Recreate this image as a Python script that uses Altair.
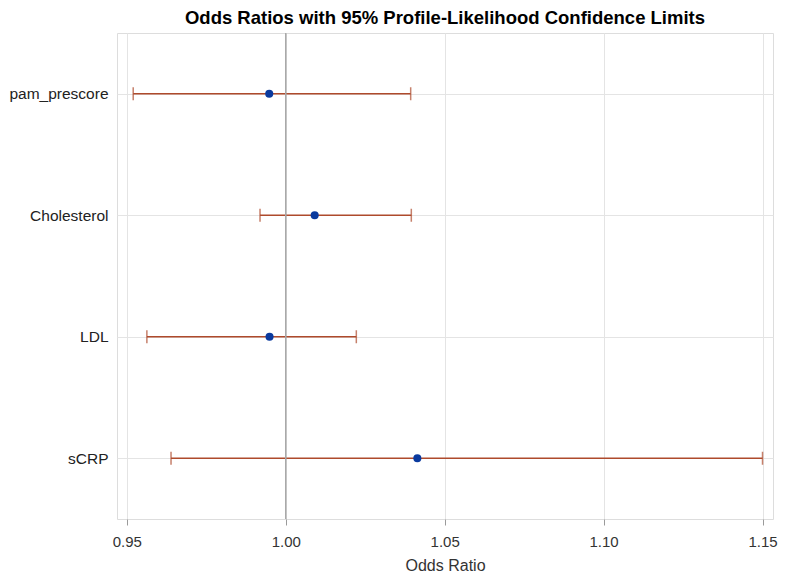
import altair as alt
import pandas as pd

effects = ["pam_prescore", "Cholesterol", "LDL", "sCRP"]
odds_ratio = [0.9948, 1.0091, 0.9949, 1.0414]
lower_cl = [0.9520, 0.9919, 0.9563, 0.9639]
upper_cl = [1.0393, 1.0395, 1.0222, 1.1500]
ref_value = [1.0]
x_ticks = [0.95, 1.00, 1.05, 1.10, 1.15]

df = pd.DataFrame({"Effect": effects, "OR": odds_ratio, "Lower": lower_cl, "Upper": upper_cl})
ref_df = pd.DataFrame({"ref": ref_value})

FONT = "Liberation Sans"
xscale = alt.Scale(domain=[0.9469, 1.1533], nice=False, zero=False)
yscale = alt.Scale(type="point", domain=effects, padding=0.5)

xenc = alt.X("Lower:Q", scale=xscale,
             axis=alt.Axis(values=x_ticks, format=".2f", title="Odds Ratio",
                           grid=True, gridColor="#E4E4E4", domain=False,
                           tickColor="#9A9A9A", tickSize=6, labelFontSize=15,
                           labelColor="#333333", labelPadding=9,
                           titleFontSize=16, titleFontWeight="normal",
                           titleColor="#333333", titlePadding=8, labelFont=FONT, titleFont=FONT))
yenc = alt.Y("Effect:N", scale=yscale, sort=effects,
             axis=alt.Axis(title=None, grid=True, gridColor="#E4E4E4", domain=False,
                           ticks=False, labelFontSize=15.5, labelColor="#222222",
                           labelPadding=9, labelFont=FONT))

ref = alt.Chart(ref_df).mark_rule(color="#A8A8A8", strokeWidth=1.5).encode(
    x=alt.X("ref:Q", scale=xscale)
)

bars = alt.Chart(df).mark_rule(color="#AE4A2C", strokeWidth=1.5).encode(
    x=xenc, x2="Upper:Q", y=yenc
)
cap_lo = alt.Chart(df).mark_tick(color="#AE4A2C", orient="vertical", size=13, thickness=1.5).encode(
    x=alt.X("Lower:Q", scale=xscale), y=alt.Y("Effect:N", scale=yscale, sort=effects)
)
cap_hi = alt.Chart(df).mark_tick(color="#AE4A2C", orient="vertical", size=13, thickness=1.5).encode(
    x=alt.X("Upper:Q", scale=xscale), y=alt.Y("Effect:N", scale=yscale, sort=effects)
)
pts = alt.Chart(df).mark_circle(color="#0A3A9E", opacity=1, size=65).encode(
    x=alt.X("OR:Q", scale=xscale), y=alt.Y("Effect:N", scale=yscale, sort=effects)
)

chart = alt.layer(bars, ref, cap_lo, cap_hi, pts).properties(
    width=656, height=486,
    padding={"left": 0, "top": 0, "right": 0, "bottom": 0},
    title=alt.TitleParams("Odds Ratios with 95% Profile-Likelihood Confidence Limits",
                          fontSize=18.5, fontWeight="bold", font=FONT, color="#000000",
                          anchor="middle", offset=5)
).configure_view(stroke="#A8A8A8", strokeWidth=1.5).configure(background="white")

chart.save("out.html", embed_options={"renderer": "svg", "actions": False})
